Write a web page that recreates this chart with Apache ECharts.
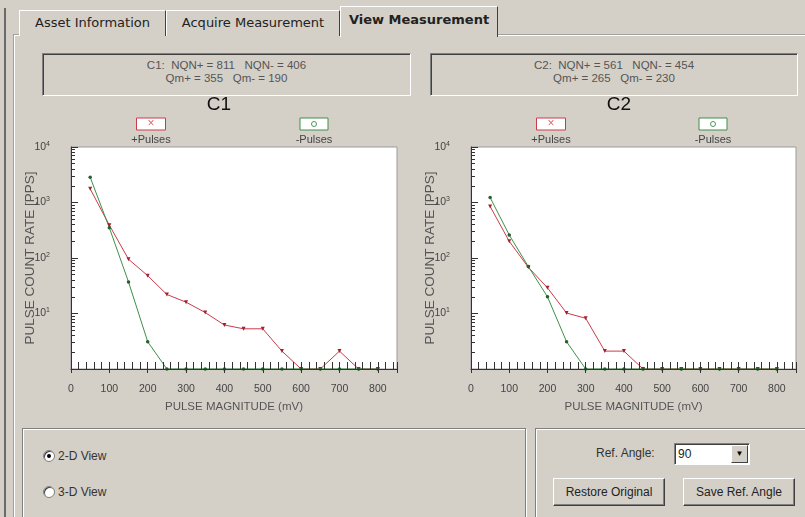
<!DOCTYPE html>
<html>
<head>
<meta charset="utf-8">
<script src="https://cdn.jsdelivr.net/npm/echarts@6/dist/echarts.min.js"></script>
<style>
  html,body{margin:0;padding:0;}
  body{width:805px;height:517px;background:#d4d0c8;position:relative;overflow:hidden;font-family:'Liberation Sans',Arial,sans-serif;color:#222;}
  .abs{position:absolute;box-sizing:border-box;}
  .tab{position:absolute;top:10px;height:26px;box-sizing:border-box;border-top:1px solid #fff;border-left:1px solid #fff;border-right:1px solid #404040;background:#d4d0c8;font-family:'DejaVu Sans',Verdana,sans-serif;font-size:13px;line-height:24px;text-align:center;color:#222;}
  .tab.sel{top:6px;height:31px;font-weight:bold;line-height:26px;z-index:2;}
  .panel{position:absolute;left:14px;top:35px;width:800px;height:500px;border-top:1px solid #fff;border-left:1px solid #fff;box-shadow:-1px -1px 0 #a0a0a0;}
  .info{position:absolute;top:53px;height:36px;border-top:1px solid #808080;border-left:1px solid #808080;border-bottom:1px solid #fff;border-right:1px solid #fff;box-shadow:inset 1px 1px 0 #404040;text-align:center;font-size:11.5px;line-height:13px;padding-top:5px;color:#555;white-space:pre;}
  .group{position:absolute;top:428px;height:100px;border:1px solid #808080;box-shadow:inset 1px 1px 0 #fff, 1px 1px 0 #fff;}
  .radio{position:absolute;width:12px;height:12px;border-radius:50%;background:#fff;border:1px solid #808080;box-shadow:inset 1px 1px 0 #404040;box-sizing:border-box;}
  .radio.on::after{content:'';position:absolute;left:3px;top:3px;width:4px;height:4px;border-radius:50%;background:#000;}
  .lbl{position:absolute;font-size:12px;color:#333;}
  .btn{position:absolute;height:28px;top:478px;box-sizing:border-box;border:1px solid;border-color:#fff #404040 #404040 #fff;box-shadow:inset -1px -1px 0 #808080;font-size:12px;line-height:26px;text-align:center;color:#222;background:#d4d0c8;}
  #chart{position:absolute;left:0;top:0;width:805px;height:517px;z-index:5;}
</style>
</head>
<body>
<div class="abs" style="left:4px;top:8px;width:2px;height:520px;background:#6a6a6a;"></div>
<div class="panel"></div>
<div class="tab" style="left:19px;width:147px;">Asset Information</div>
<div class="tab" style="left:166px;width:174px;">Acquire Measurement</div>
<div class="tab sel" style="left:340px;width:158px;">View Measurement</div>

<div class="info" style="left:42px;width:367px;">C1:  NQN+ = 811   NQN- = 406
Qm+ = 355   Qm- = 190</div>
<div class="info" style="left:430px;width:366px;">C2:  NQN+ = 561   NQN- = 454
Qm+ = 265   Qm- = 230</div>

<div class="group" style="left:22px;width:502px;"></div>
<div class="group" style="left:535px;width:275px;"></div>
<div class="radio on" style="left:43px;top:450px;"></div>
<div class="lbl" style="left:58px;top:449px;">2-D View</div>
<div class="radio" style="left:43px;top:486px;"></div>
<div class="lbl" style="left:58px;top:485px;">3-D View</div>
<div class="lbl" style="left:596px;top:446px;">Ref. Angle:</div>
<div class="abs" style="left:674px;top:443px;width:76px;height:22px;background:#fff;border:1px solid;border-color:#808080 #fff #fff #808080;box-shadow:inset 1px 1px 0 #404040;">
  <div class="abs" style="left:3px;top:3px;font-size:12px;color:#222;">90</div>
  <div class="abs" style="right:1px;top:1px;width:17px;height:18px;background:#d4d0c8;border:1px solid;border-color:#fff #404040 #404040 #fff;font-size:8px;line-height:16px;text-align:center;color:#000;">&#9660;</div>
</div>
<div class="btn" style="left:553px;width:112px;">Restore Original</div>
<div class="btn" style="left:683px;width:112px;">Save Ref. Angle</div>

<div id="chart"></div>
<script>
// ---- data ----
const magnitudes = [50,100,150,200,250,300,350,400,450,500,550,600,650,700,750,800];
const c1PlusPulses  = [1760,390,95,48,22,16,10.4,6.2,5.3,5.3,2.1,1,1,2.1,1,1];
const c1MinusPulses = [2850,350,37,3.1,1,1,1,1,1,1,1,1,1,1,1,1];
const c2PlusPulses  = [850,200,68,29,10.2,8.2,2.1,2.1,1,1,1,1,1,1,1,1];
const c2MinusPulses = [1230,260,70,20,3.1,1,1,1,1,1,1,1,1,1,1,1];
const xTickLabels = [0,100,200,300,400,500,600,700,800];
const yTickLabels = [10,100,1000,10000];
const chartTitles = ['C1','C2'];
const legendNames = ['+Pulses','-Pulses'];

const RED = '#cc3a4a', RED_M = '#a3202e';
const GREEN = '#3f8f4a', GREEN_M = '#24602c';
const AX = '#333333';
const FONT = "'Liberation Sans', Arial, sans-serif";

const pairs = (vals) => magnitudes.map((m, i) => [m, vals[i]]);

const grids = [
  {left: 71, top: 147, width: 326, height: 222},
  {left: 471, top: 147, width: 325, height: 222}
];

function mainX(gi) {
  return {
    gridIndex: gi, type: 'value', position: 'bottom', min: 0, max: 850, interval: 100, z: 5,
    axisLine: {show: true, lineStyle: {color: AX, width: 1}},
    axisTick: {show: true, inside: false, length: 4, lineStyle: {color: AX, width: 1}},
    axisLabel: {
      color: '#444', fontSize: 10.5, fontFamily: FONT, margin: 15,
      formatter: v => xTickLabels.indexOf(v) >= 0 ? String(v) : ''
    },
    splitLine: {show: false},
    name: 'PULSE MAGNITUDE (mV)', nameLocation: 'middle', nameGap: 32,
    nameTextStyle: {color: '#555', fontSize: 11.5, fontFamily: FONT}
  };
}
function minorX(gi) {
  return {
    gridIndex: gi, type: 'value', position: 'bottom', min: 0, max: 850, interval: 20, z: 5,
    axisLine: {show: false},
    axisTick: {show: true, inside: true, length: 7, lineStyle: {color: AX, width: 1}},
    axisLabel: {show: false}, splitLine: {show: false}
  };
}
function logY(gi) {
  return {
    gridIndex: gi, type: 'log', logBase: 10, min: 1, max: 10000, z: 5,
    axisLine: {show: true, lineStyle: {color: AX, width: 1}},
    axisTick: {show: true, inside: true, length: 7, lineStyle: {color: AX, width: 1}},
    minorTick: {show: true, splitNumber: 9, length: 4, lineStyle: {color: AX, width: 1}},
    splitLine: {show: false},
    axisLabel: {
      margin: 21, fontFamily: FONT,
      formatter: v => {
        if (yTickLabels.indexOf(v) < 0) return '';
        return '{a|10}{b|' + Math.round(Math.log10(v)) + '}';
      },
      rich: {
        a: {fontSize: 10.5, color: '#444', fontFamily: FONT},
        b: {fontSize: 7, color: '#444', fontFamily: FONT, verticalAlign: 'top', padding: [0,0,6,0]}
      }
    },
    name: 'PULSE COUNT RATE [PPS]', nameLocation: 'middle', nameGap: 34, nameMoveOverlap: false,
    nameTextStyle: {color: '#555', fontSize: 13.5, fontFamily: FONT}
  };
}
function lineSeries(name, gi, vals, color, mcolor, symbol, rot, size) {
  return {
    name: name, type: 'line', xAxisIndex: gi, yAxisIndex: gi,
    data: pairs(vals), symbol: symbol, symbolSize: size, symbolRotate: rot,
    showAllSymbol: true,
    lineStyle: {color: color, width: 1},
    itemStyle: {color: mcolor}
  };
}

// decoration: titles + legend keys
const graphics = [];
const centers = [[219, 619], [151, 551], [314, 713]];
chartTitles.forEach((t, i) => {
  graphics.push({type: 'text', x: centers[0][i], y: 105, z: 10,
    style: {text: t, font: '19px ' + FONT, fill: '#111', align: 'center', verticalAlign: 'middle'}});
  const rx = centers[1][i];
  graphics.push({type: 'rect', shape: {x: rx - 14.5, y: 118, width: 29, height: 12}, z: 10,
    style: {fill: '#fff', stroke: RED, lineWidth: 1}});
  graphics.push({type: 'text', x: rx, y: 124, z: 11,
    style: {text: '×', font: '12px ' + FONT, fill: '#d86a78', align: 'center', verticalAlign: 'middle'}});
  graphics.push({type: 'text', x: rx, y: 140, z: 10,
    style: {text: legendNames[0], font: '11px ' + FONT, fill: '#444', align: 'center', verticalAlign: 'middle'}});
  const gx = centers[2][i];
  graphics.push({type: 'rect', shape: {x: gx - 14, y: 118, width: 28, height: 12}, z: 10,
    style: {fill: '#fff', stroke: GREEN, lineWidth: 1}});
  graphics.push({type: 'circle', shape: {cx: gx, cy: 124, r: 2.5}, z: 11,
    style: {fill: 'none', stroke: '#4c9a57', lineWidth: 1}});
  graphics.push({type: 'text', x: gx, y: 140, z: 10,
    style: {text: legendNames[1], font: '11px ' + FONT, fill: '#444', align: 'center', verticalAlign: 'middle'}});
});

const chart = echarts.init(document.getElementById('chart'));
chart.setOption({
  animation: false,
  grid: grids.map(g => Object.assign({show: true, backgroundColor: '#fff', borderColor: '#9c9c9c', borderWidth: 1, z: 0}, g)),
  xAxis: [mainX(0), mainX(1), minorX(0), minorX(1)],
  yAxis: [logY(0), logY(1)],
  series: [
    lineSeries(legendNames[0], 0, c1PlusPulses, RED, RED_M, 'triangle', 180, 4),
    lineSeries(legendNames[1], 0, c1MinusPulses, GREEN, GREEN_M, 'circle', 0, 3.5),
    lineSeries(legendNames[0], 1, c2PlusPulses, RED, RED_M, 'triangle', 180, 4),
    lineSeries(legendNames[1], 1, c2MinusPulses, GREEN, GREEN_M, 'circle', 0, 3.5)
  ],
  graphic: graphics
});
</script>
</body>
</html>
